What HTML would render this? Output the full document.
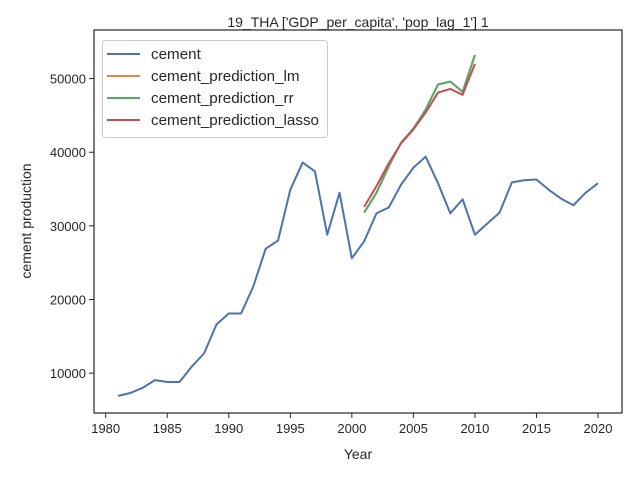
<!DOCTYPE html>
<html><head><meta charset="utf-8"><style>
body{margin:0;background:#fff;font-family:"Liberation Sans",sans-serif}
svg text{font-family:"Liberation Sans",sans-serif;fill:#262626}
</style></head><body>
<svg id="chart" width="640" height="480"></svg>
<script>
const years=[1981,1982,1983,1984,1985,1986,1987,1988,1989,1990,1991,1992,1993,1994,1995,1996,1997,1998,1999,2000,2001,2002,2003,2004,2005,2006,2007,2008,2009,2010,2011,2012,2013,2014,2015,2016,2017,2018,2019,2020];
const cement=[6900,7300,8000,9050,8800,8800,10900,12700,16600,18100,18100,21800,26900,28000,34900,38600,37400,28800,34500,25600,27900,31700,32500,35600,37900,39400,35800,31700,33600,28800,30300,31800,35900,36200,36300,34900,33700,32800,34500,35800];
const predYears=[2001,2002,2003,2004,2005,2006,2007,2008,2009,2010];
const predLm=[31800,34500,38100,41300,43200,45800,49200,49600,48200,53200];
const predRr=[31800,34500,38100,41300,43200,45800,49200,49600,48200,53200];
const predLasso=[32600,35400,38500,41200,43100,45400,48100,48600,47800,52000];
const xTicks=[1980,1985,1990,1995,2000,2005,2010,2015,2020];
const yTicks=[10000,20000,30000,40000,50000];
const L=94,R=622,T=30,B=413;
const xmin=1979.05,xmax=2021.95,ymin=4585,ymax=56600;
const X=v=>L+(v-xmin)/(xmax-xmin)*(R-L);
const Y=v=>B-(v-ymin)/(ymax-ymin)*(B-T);
const NS="http://www.w3.org/2000/svg";
const svg=document.getElementById('chart');
function mk(t,a,p){const e=document.createElementNS(NS,t);for(const k in a)e.setAttribute(k,a[k]);(p||svg).appendChild(e);return e;}
const title=mk('text',{x:358,y:27,'text-anchor':'middle','font-size':14});title.textContent="19_THA ['GDP_per_capita', 'pop_lag_1'] 1";


xTicks.forEach(t=>{const g=mk('g',{});


mk('line',{x1:X(t),x2:X(t),y1:B,y2:B+5,stroke:'#262626'},g);
const tx=mk('text',{x:X(t),y:B+20,'text-anchor':'middle','font-size':13},g);tx.textContent=t;});
yTicks.forEach(t=>{const g=mk('g',{});


mk('line',{x1:L-5,x2:L,y1:Y(t),y2:Y(t),stroke:'#262626'},g);
const tx=mk('text',{x:L-8,y:Y(t)+5,'text-anchor':'end','font-size':13},g);tx.textContent=t;});
const xl=mk('text',{x:358,y:459,'text-anchor':'middle','font-size':14});xl.textContent='Year';


const yl=mk('text',{x:31,y:221,'text-anchor':'middle','font-size':14,transform:'rotate(-90 31 221)'});yl.textContent='cement production';


function line(xs,ys,c,name){const p=mk('polyline',{points:xs.map((x,i)=>X(x)+','+Y(ys[i])).join(' '),fill:'none',stroke:c,'stroke-width':2,'stroke-linejoin':'round'});

}
line(years,cement,'#4c72b0','cement-line');
line(predYears,predLm,'#dd8452','lm-prediction-line');
line(predYears,predRr,'#55a868','rr-prediction-line');
line(predYears,predLasso,'#c44e52','lasso-prediction-line');
const fr=mk('rect',{x:L,y:T,width:R-L,height:B-T,fill:'none',stroke:'#262626','stroke-width':1.2});


const lg=mk('g',{});


mk('rect',{x:102.5,y:40.5,width:225,height:97,rx:3,fill:'#fff','fill-opacity':0.8,stroke:'#ccc'},lg);
[['cement','#4c72b0'],['cement_prediction_lm','#dd8452'],['cement_prediction_rr','#55a868'],['cement_prediction_lasso','#c44e52']].forEach((e,i)=>{
const y=54+i*22;const g=mk('g',{},lg);


mk('line',{x1:107,x2:140,y1:y,y2:y,stroke:e[1],'stroke-width':2},g);
const t=mk('text',{x:151,y:y+5,'font-size':15.2},g);t.textContent=e[0];});
</script>
</body></html>
